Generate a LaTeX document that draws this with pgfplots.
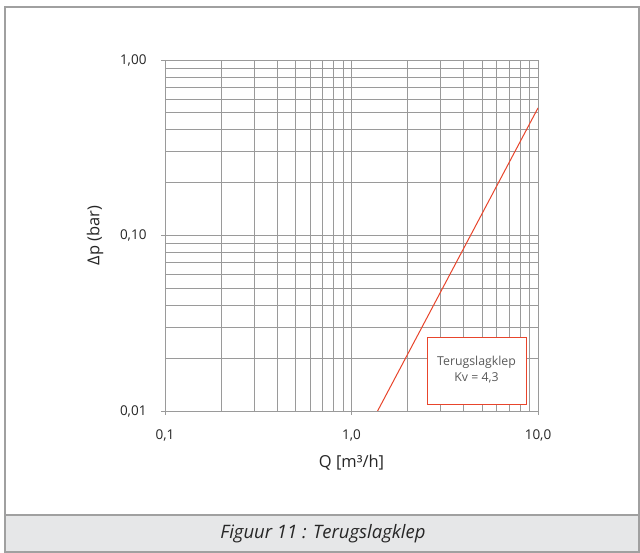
\documentclass[border=0pt]{standalone}
\usepackage{pgfplots}
\pgfplotsset{compat=1.18}
\usepackage{fontspec}
\setmainfont{Open Sans}
\definecolor{gridgray}{HTML}{9A9A9A}
\definecolor{framegray}{HTML}{A0A0A0}
\definecolor{bandgray}{HTML}{E6E7E8}
\definecolor{curvered}{HTML}{E8452C}
\definecolor{textgray}{HTML}{5A5A5A}
\begin{document}
\begin{tikzpicture}
\begin{scope}[x=1bp,y=1bp]
\useasboundingbox (0,0) rectangle (640,553);
\fill[white] (0,0) rectangle (640,553);
\fill[bandgray] (5,1) rectangle (639,38);
\draw[framegray,line width=1.2bp] (5,1) rectangle (639,546);
\draw[framegray,line width=1.2bp] (5,38) -- (639,38);
\node[font=\fontsize{18.5bp}{22bp}\selectfont\itshape,text=black!85] at (323,19) {Figuur 11 : Terugslagklep};
\end{scope}
\begin{axis}[
  at={(165bp,142bp)}, anchor=south west,
  scale only axis, width=373bp, height=351bp,
  xmode=log, ymode=log,
  xmin=0.1, xmax=10, ymin=0.01, ymax=1,
  xtick={0.1,1,10}, xticklabels={{0,1},{1,0},{10,0}},
  ytick={0.01,0.1,1}, yticklabels={{0,01},{0,10},{1,00}},
  grid=both,
  major grid style={gridgray,line width=0.7bp},
  minor grid style={gridgray,line width=0.7bp},
  tick align=outside,
  major tick length=4bp, minor tick length=0pt,
  tick style={gridgray,line width=0.7bp},
  axis line style={gridgray,line width=0.7bp},
  axis lines*=left,
  /pgf/number format/assume math mode=true,
  ticklabel style={font=\fontsize{13.5bp}{16bp}\selectfont,text=black!85},
  yticklabel style={xshift=-11bp},
  xticklabel style={yshift=-11bp},
  xlabel={Q [m³/h]}, ylabel={Δp (bar)},
  label style={font=\fontsize{16.5bp}{20bp}\selectfont,text=black!85},
  xlabel style={at={(axis description cs:0.5,-0.148)},anchor=center},
  ylabel style={at={(axis description cs:-0.1877,0.5)},anchor=center},
]
\addplot[curvered,line width=1bp] coordinates {(1.38,0.01) (10,0.533)};
\end{axis}
\begin{scope}[x=1bp,y=1bp]
\draw[curvered,fill=white,line width=1bp] (427,148) rectangle (526,215);
\node[font=\fontsize{12.3bp}{16bp}\selectfont,text=textgray,align=center] at (476.5,183) {Terugslagklep\\Kv = 4,3};
\end{scope}
\end{tikzpicture}
\end{document}
